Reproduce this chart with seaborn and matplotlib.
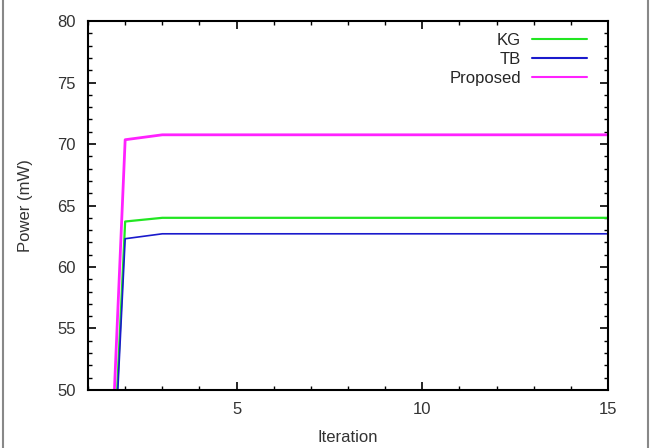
import matplotlib
matplotlib.use("Agg")
import matplotlib.pyplot as plt
import seaborn as sns
import pandas as pd
from matplotlib.ticker import MultipleLocator
from matplotlib.lines import Line2D

iterations = list(range(1, 16))
kg = [0, 63.7, 64.0, 64.0, 64.0, 64.0, 64.0, 64.0, 64.0, 64.0, 64.0, 64.0, 64.0, 64.0, 64.0]
tb = [0, 62.3, 62.7, 62.7, 62.7, 62.7, 62.7, 62.7, 62.7, 62.7, 62.7, 62.7, 62.7, 62.7, 62.7]
proposed = [0, 70.35, 70.75, 70.75, 70.75, 70.75, 70.75, 70.75, 70.75, 70.75, 70.75, 70.75, 70.75, 70.75, 70.75]

series = ["KG", "TB", "Proposed"]
colores = {"KG": "#22e622", "TB": "#1a1acc", "Proposed": "#ff22ff"}
anchos = {"KG": 1.6, "TB": 1.2, "Proposed": 2.0}

df = pd.DataFrame({
    "Iteration": iterations * 3,
    "Power": kg + tb + proposed,
    "Serie": ["KG"] * 15 + ["TB"] * 15 + ["Proposed"] * 15,
})

sns.set_style("ticks")
plt.rcParams['font.family'] = ['Liberation Sans', 'DejaVu Sans']

fig = plt.figure(figsize=(6.53, 4.48), dpi=100)
ax = fig.add_axes([0.1348, 0.1295, 0.931 - 0.1348, 0.953 - 0.1295])

for s in series:
    sns.lineplot(data=df[df["Serie"] == s], x="Iteration", y="Power", ax=ax,
                 color=colores[s], linewidth=anchos[s], legend=False)

ax.set_xlim(1, 15)
ax.set_ylim(50, 80)
ax.xaxis.set_major_locator(MultipleLocator(5))
ax.xaxis.set_minor_locator(MultipleLocator(1))
ax.yaxis.set_major_locator(MultipleLocator(5))
ax.yaxis.set_minor_locator(MultipleLocator(1))
ax.set_xticks([5, 10, 15])
ax.tick_params(which="both", direction="in", top=True, right=True, color="black")
ax.tick_params(which="major", length=6, width=1.2, labelsize=12, pad=9, labelcolor="#333333")
ax.tick_params(which="minor", length=3, width=1.0)
for sp in ax.spines.values():
    sp.set_linewidth(1.5)
    sp.set_color("black")

ax.set_xlabel("Iteration", fontsize=12, color="#333333", labelpad=9)
ax.set_ylabel("Power (mW)", fontsize=12, color="#333333", labelpad=17)

handles = [Line2D([0], [0], color=colores[s], linewidth=1.5) for s in series]
ax.legend(handles, series, loc="upper right", frameon=False, markerfirst=False,
          fontsize=12, handlelength=3.3, labelspacing=0.22, borderaxespad=0.0,
          handletextpad=0.65, bbox_to_anchor=(0.972, 0.985))

# marco gris exterior
for xs in ([0.004, 0.004], [0.992, 0.992]):
    fig.add_artist(Line2D(xs, [0, 1], transform=fig.transFigure, color="#888888", linewidth=1.5))

plt.savefig("out.png", dpi=100)
plt.close()
